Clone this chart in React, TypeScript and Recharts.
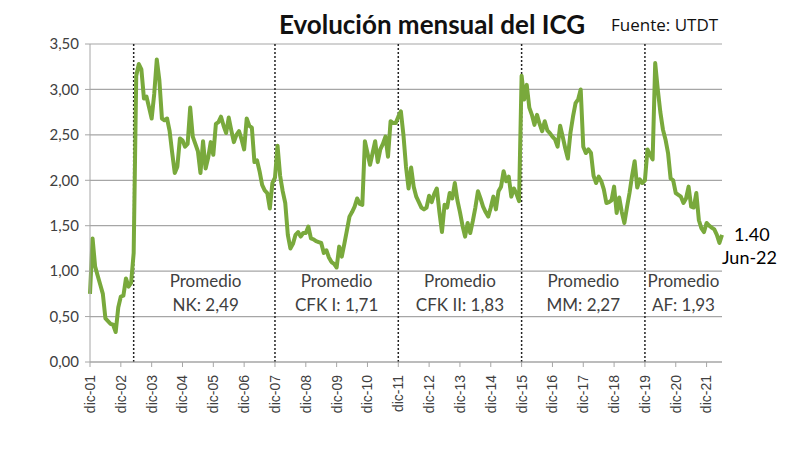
import React from 'react';
import { LineChart, Line, XAxis, YAxis, CartesianGrid, ReferenceLine, ReferenceDot } from 'recharts';

// ICG mensual, una fila por año (dic a nov), desde dic-01 hasta jun-22
const icg02 = [0.75, 1.36, 1.05, 0.95, 0.85, 0.75, 0.48, 0.45, 0.42, 0.41, 0.33, 0.6];
const icg03 = [0.72, 0.73, 0.92, 0.83, 0.87, 1.2, 3.15, 3.28, 3.22, 2.9, 2.92, 2.8];
const icg04 = [2.68, 2.95, 3.33, 3.1, 2.68, 2.66, 2.68, 2.54, 2.3, 2.08, 2.15, 2.46];
const icg05 = [2.44, 2.37, 2.4, 2.8, 2.48, 2.4, 2.32, 2.08, 2.43, 2.13, 2.25, 2.42];
const icg06 = [2.28, 2.62, 2.64, 2.7, 2.6, 2.52, 2.69, 2.55, 2.42, 2.5, 2.54, 2.45];
const icg07 = [2.34, 2.68, 2.6, 2.58, 2.2, 2.22, 2.1, 1.95, 1.89, 1.86, 1.69, 1.97];
const icg08 = [2.03, 2.38, 2.05, 1.88, 1.75, 1.4, 1.25, 1.3, 1.4, 1.43, 1.38, 1.42];
const icg09 = [1.42, 1.49, 1.36, 1.35, 1.33, 1.32, 1.31, 1.2, 1.23, 1.15, 1.1, 1.08];
const icg10 = [1.04, 1.27, 1.16, 1.3, 1.45, 1.6, 1.65, 1.71, 1.8, 1.74, 1.73, 2.43];
const icg11 = [2.3, 2.17, 2.3, 2.43, 2.2, 2.34, 2.4, 2.48, 2.26, 2.65, 2.63, 2.63];
const icg12 = [2.7, 2.76, 2.5, 2.15, 1.91, 2.14, 1.93, 1.82, 1.76, 1.7, 1.68, 1.7];
const icg13 = [1.83, 1.76, 1.85, 1.91, 1.65, 1.43, 1.73, 1.7, 1.86, 1.8, 1.97, 1.78];
const icg14 = [1.65, 1.5, 1.38, 1.53, 1.42, 1.55, 1.7, 1.88, 1.8, 1.71, 1.65, 1.6];
const icg15 = [1.7, 1.82, 1.68, 1.88, 1.93, 2.1, 1.99, 2.04, 1.82, 1.91, 1.85, 1.77];
const icg16 = [3.15, 2.89, 3.05, 2.8, 2.72, 2.61, 2.72, 2.62, 2.54, 2.65, 2.55, 2.52];
const icg17 = [2.48, 2.45, 2.37, 2.6, 2.48, 2.35, 2.24, 2.52, 2.7, 2.85, 2.89, 3.0];
const icg18 = [2.37, 2.3, 2.34, 2.3, 2.05, 1.97, 2.04, 1.99, 1.9, 1.75, 1.76, 1.78];
const icg19 = [1.93, 1.64, 1.81, 1.65, 1.53, 1.7, 1.86, 2.05, 2.21, 1.92, 2.01, 1.97];
const icg20 = [2.0, 2.34, 2.28, 2.23, 3.29, 3.0, 2.75, 2.56, 2.45, 2.3, 2.02, 2.0];
const icg21 = [1.86, 1.84, 1.82, 1.75, 1.8, 1.93, 1.71, 1.7, 1.86, 1.56, 1.47, 1.43];
const icg22 = [1.53, 1.5, 1.48, 1.46, 1.4, 1.31, 1.4];

const tickLabels = [
  'dic-01', 'dic-02', 'dic-03', 'dic-04', 'dic-05', 'dic-06', 'dic-07',
  'dic-08', 'dic-09', 'dic-10', 'dic-11', 'dic-12', 'dic-13', 'dic-14',
  'dic-15', 'dic-16', 'dic-17', 'dic-18', 'dic-19', 'dic-20', 'dic-21',
];
const yTicks = [0, 0.5, 1, 1.5, 2, 2.5, 3, 3.5];

// gobiernos: inicio (índice de mes) y promedio
const periodNames = ['NK', 'CFK I', 'CFK II', 'MM', 'AF'];
const periodAverages = ['2,49', '1,71', '1,83', '2,27', '1,93'];
const periodStarts = [17, 72, 120, 168, 216];
const periodLabelAt = [45, 96, 144, 192, 231];
const lastLabel = 'Jun-22';

const icgValues = [
  ...icg02, ...icg03, ...icg04, ...icg05, ...icg06, ...icg07, ...icg08,
  ...icg09, ...icg10, ...icg11, ...icg12, ...icg13, ...icg14, ...icg15,
  ...icg16, ...icg17, ...icg18, ...icg19, ...icg20, ...icg21, ...icg22,
];
const data = icgValues.map((v, i) => ({ i, icg: v }));
const lastIdx = icgValues.length - 1;
const xTicks = tickLabels.map((_, k) => k * 12);

const GRID = '#a6a6a6';
const GREEN = '#79a93c';

const XTick = (props: any) => {
  const { x, y, payload } = props;
  return (
    <g transform={`translate(${x},${y})`}>
      <text transform="rotate(-90)" textAnchor="end" dy="0.35em" fontSize={14}
        fontFamily="'Liberation Sans', Arial, sans-serif" fill="#404040">
        {tickLabels[Math.round(payload.value / 12)]}
      </text>
    </g>
  );
};

const PeriodLabel = (props: any) => {
  const { viewBox, name, avg } = props;
  const cx = viewBox.x + (viewBox.width || 0) / 2;
  const cy = viewBox.y + (viewBox.height || 0) / 2;
  return (
    <text textAnchor="middle" fontFamily="Lato, sans-serif" fontSize={17} fill="#404040">
      <tspan x={cx} y={cy} dy="0.35em">Promedio</tspan>
      <tspan x={cx} y={cy + 24} dy="0.35em">{name}: {avg}</tspan>
    </text>
  );
};

const LastLabel = (props: any) => {
  const { viewBox } = props;
  const cx = viewBox.x + (viewBox.width || 0) / 2;
  const cy = viewBox.y + (viewBox.height || 0) / 2;
  return (
    <text fontFamily="Lato, sans-serif" fontSize={18} fill="#000">
      <tspan x={cx + 12} y={cy} dy="0.35em">{icgValues[lastIdx].toFixed(2)}</tspan>
      <tspan x={cx} y={cy + 23} dy="0.35em">{lastLabel}</tspan>
    </text>
  );
};

export default function App() {
  return (
    <div style={{ position: 'absolute', left: 0, top: 0, width: 798, height: 450, background: '#fff' }}>
      <LineChart width={798} height={450} data={data} margin={{ top: 44, right: 76, left: 40, bottom: 28 }}>
        <CartesianGrid vertical={false} stroke={GRID} strokeWidth={1.2} />
        <XAxis
          dataKey="i"
          type="number"
          domain={[0, lastIdx]}
          ticks={xTicks}
          interval={0}
          height={60}
          tickSize={5}
          tickMargin={8}
          axisLine={{ stroke: GRID }}
          tickLine={{ stroke: GRID }}
          tick={<XTick />}
        />
        <YAxis
          domain={[0, 3.5]}
          ticks={yTicks}
          width={50}
          tickSize={5}
          tickMargin={6}
          axisLine={{ stroke: GRID }}
          tickLine={{ stroke: GRID }}
          tick={{ fill: '#404040', fontSize: 15, fontFamily: 'Lato, sans-serif' }}
          tickFormatter={(v: number) => v.toFixed(2).replace('.', ',')}
        />
        {periodStarts.map((s) => (
          <ReferenceLine key={s} x={s} stroke="#222" strokeWidth={1.5} strokeDasharray="2 2" />
        ))}
        {periodNames.map((n, k) => (
          <ReferenceDot key={n} x={periodLabelAt[k]} y={0.89} r={1} fill="none" stroke="none"
            label={<PeriodLabel name={n} avg={periodAverages[k]} />} />
        ))}
        <Line
          type="linear"
          dataKey="icg"
          stroke={GREEN}
          strokeWidth={4}
          strokeLinejoin="round"
          dot={false}
          isAnimationActive={false}
        />
        <ReferenceDot x={lastIdx} y={icgValues[lastIdx]} r={1} fill="none" stroke="none"
          label={<LastLabel />} />
      </LineChart>
      <svg width={798} height={44} style={{ position: 'absolute', left: 0, top: 0 }}>
        <text x={432} y={34} textAnchor="middle" fontFamily="Lato, sans-serif" fontWeight={700}
          fontSize={26} fill="#111">
          Evolución mensual del ICG
        </text>
        <text x={611} y={31} fontFamily="'Open Sans', sans-serif" fontSize={17} fill="#111">
          Fuente: UTDT
        </text>
      </svg>
    </div>
  );
}
